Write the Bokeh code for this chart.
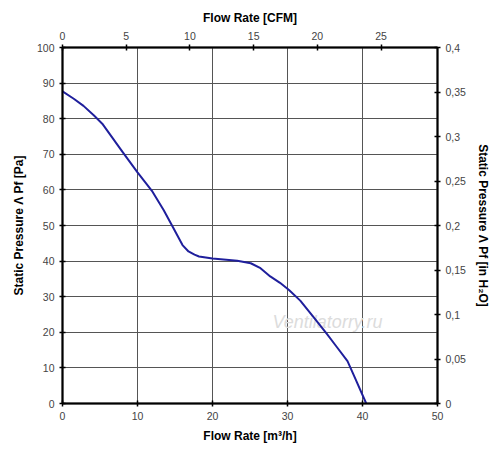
from bokeh.plotting import figure
from bokeh.models import Range1d, LinearAxis, FixedTicker, CustomJSTickFormatter
from bokeh.core.properties import value
from bokeh.embed import file_html
from bokeh.resources import INLINE

flow_m3h = [0.0, 1.5, 2.8, 4.2, 5.3, 6.4, 8.0, 10.0, 12.0, 13.5, 14.8, 16.0, 16.8, 17.6,
            18.2, 20.0, 23.3, 25.1, 26.4, 27.7, 29.0, 30.2, 31.7, 33.5, 35.3, 36.6, 38.0,
            39.1, 40.5]
pressure_pa = [87.7, 85.6, 83.6, 80.9, 78.6, 75.4, 70.7, 64.9, 59.5, 54.3, 49.2, 44.5, 42.7, 41.8,
               41.3, 40.7, 40.1, 39.4, 38.0, 35.7, 33.9, 31.9, 28.9, 24.2, 19.4, 15.8, 11.9,
               6.7, 0.0]

x_ticks = [0, 10, 20, 30, 40, 50]
y_ticks = [0, 10, 20, 30, 40, 50, 60, 70, 80, 90, 100]
cfm_ticks = [0, 5, 10, 15, 20, 25]
inh2o_ticks = [0, 0.05, 0.1, 0.15, 0.2, 0.25, 0.3, 0.35, 0.4]

FONT = "Liberation Sans"

p = figure(width=492, height=445, output_backend="svg", toolbar_location=None,
           x_range=Range1d(0, 50), y_range=Range1d(0, 100),
           min_border_left=62, min_border_right=55, min_border_top=47, min_border_bottom=41,
           background_fill_color="white", border_fill_color="white")
p.outline_line_color = "black"
p.outline_line_width = 1.5

p.extra_x_ranges = {"cfm": Range1d(0, 50 / 1.699)}
p.extra_y_ranges = {"inh2o": Range1d(0, 0.4)}

def style_axis(ax, label):
    ax.axis_label = label
    ax.axis_label_text_font = FONT
    ax.axis_label_text_font_style = "bold"
    ax.axis_label_text_font_size = "12px"
    ax.axis_label_text_color = "black"
    ax.major_label_text_font = FONT
    ax.major_label_text_font_size = "10.5px"
    ax.major_label_text_color = "#444444"
    ax.axis_line_color = "black"
    ax.axis_line_width = 2
    ax.major_tick_in = 3
    ax.major_tick_out = 3
    ax.major_tick_line_color = "black"
    ax.major_tick_line_width = 1.5
    ax.minor_tick_line_color = None

bx = p.xaxis[0]
bx.ticker = FixedTicker(ticks=x_ticks)
style_axis(bx, "Flow Rate [m³/h]")
bx.axis_label_standoff = 6
ly = p.yaxis[0]
ly.ticker = FixedTicker(ticks=y_ticks)
style_axis(ly, "Static Pressure Λ Pf [Pa]")
ly.axis_label_standoff = 8

top = LinearAxis(x_range_name="cfm", ticker=FixedTicker(ticks=cfm_ticks))
style_axis(top, "Flow Rate [CFM]")
top.axis_label_standoff = 4
p.add_layout(top, "above")

right = LinearAxis(y_range_name="inh2o", ticker=FixedTicker(ticks=inh2o_ticks),
                   formatter=CustomJSTickFormatter(code="return tick.toString().replace('.', ',');"))
style_axis(right, "Static Pressure Λ Pf [in H₂O]")
right.axis_label_standoff = 7
p.add_layout(right, "right")

p.xgrid.ticker = FixedTicker(ticks=x_ticks)
p.ygrid.ticker = FixedTicker(ticks=y_ticks)
p.grid.grid_line_color = "#555555"
p.grid.grid_line_width = 1
p.grid.grid_line_alpha = 1

p.text(x=[28], y=[23], text=["Ventilatorry.ru"], text_font=value(FONT),
       text_font_style="italic", text_font_size="18px", text_color="#dcdcdc",
       text_baseline="middle", text_align="left")

p.line(flow_m3h, pressure_pa, line_color="#1f1f9c", line_width=2, line_join="round")

open("out.html", "w").write(file_html(p, INLINE))
